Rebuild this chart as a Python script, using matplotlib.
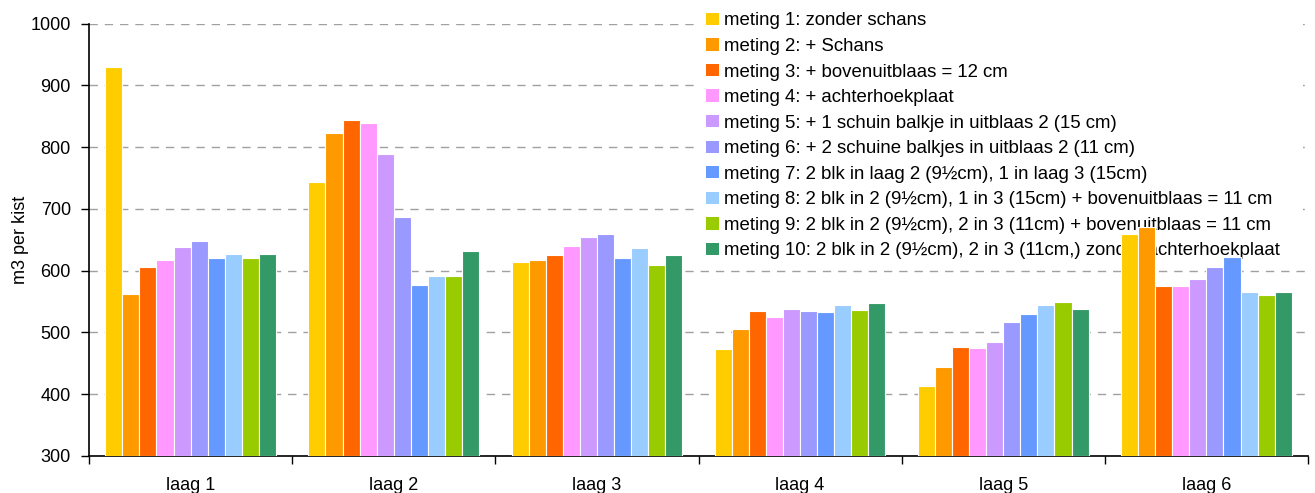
import matplotlib
matplotlib.use("Agg")
import numpy as np
import matplotlib.pyplot as plt
import matplotlib.patches as mpatches

plt.rcParams["font.family"] = ["Liberation Sans", "DejaVu Sans"]

# ---------------------------------------------------------------------------
# Data
# ---------------------------------------------------------------------------
layers = ["laag 1", "laag 2", "laag 3", "laag 4", "laag 5", "laag 6"]

series_labels = [
    "meting 1: zonder schans",
    "meting 2: + Schans",
    "meting 3: + bovenuitblaas = 12 cm",
    "meting 4: + achterhoekplaat",
    "meting 5: + 1 schuin balkje in uitblaas 2 (15 cm)",
    "meting 6: + 2 schuine balkjes in uitblaas 2 (11 cm)",
    "meting 7: 2 blk in laag 2 (9½cm), 1 in laag 3 (15cm)",
    "meting 8: 2 blk in 2 (9½cm), 1 in 3 (15cm) + bovenuitblaas = 11 cm",
    "meting 9: 2 blk in 2 (9½cm), 2 in 3 (11cm) + bovenuitblaas = 11 cm",
    "meting 10: 2 blk in 2 (9½cm), 2 in 3 (11cm,) zonder achterhoekplaat",
]

meting1 = [930, 744, 614, 473, 413, 660]
meting2 = [563, 823, 617, 505, 444, 670]
meting3 = [606, 844, 625, 535, 476, 575]
meting4 = [617, 839, 640, 525, 475, 575]
meting5 = [638, 789, 655, 538, 484, 586]
meting6 = [648, 687, 660, 535, 517, 606]
meting7 = [620, 577, 620, 533, 530, 622]
meting8 = [627, 591, 637, 544, 544, 565]
meting9 = [621, 591, 609, 536, 549, 561]
meting10 = [627, 632, 625, 547, 538, 565]

values = [meting1, meting2, meting3, meting4, meting5, meting6,
          meting7, meting8, meting9, meting10]

colors = ["#FFCC00", "#FF9900", "#FF6600", "#FF99FF", "#CC99FF",
          "#9999FF", "#6699FF", "#99CCFF", "#99CC00", "#339966"]

# ---------------------------------------------------------------------------
# Plot
# ---------------------------------------------------------------------------
W, H = 1315, 493
fig = plt.figure(figsize=(W / 100, H / 100), dpi=100)
ax = fig.add_axes([89 / W, 37 / H, 1219 / W, 432.5 / H])

x = np.arange(len(layers))
bw = 0.084
n = len(values)
for i, (vals, col, lab) in enumerate(zip(values, colors, series_labels)):
    offs = (i - (n - 1) / 2) * bw
    ax.bar(x + offs, np.array(vals) - 300, bottom=300, width=bw,
           color=col, edgecolor="white", linewidth=0.8, label=lab, zorder=3)

ax.set_xlim(-0.5, len(layers) - 0.5)
ax.set_ylim(300, 1000)
ax.set_yticks(np.arange(300, 1001, 100))
ax.yaxis.grid(True, linestyle=(0, (6, 5)), color="#A0A0A0", linewidth=1.0, zorder=0)
ax.set_axisbelow(True)

ax.set_xticks(np.arange(-0.5, len(layers)), minor=False)
ax.set_xticklabels([])
ax.set_xticks(x, minor=True)
ax.set_xticklabels(layers, minor=True, fontsize=13)
ax.tick_params(axis="x", which="minor", length=0, pad=15)
ax.tick_params(axis="x", which="major", length=6, direction="out", width=1)
ax.tick_params(axis="y", length=6, width=1, labelsize=13, pad=7)

for s in ("top", "right"):
    ax.spines[s].set_visible(False)
for s in ("left", "bottom"):
    ax.spines[s].set_linewidth(1.2)

ax.set_ylabel("m3 per kist", fontsize=13, labelpad=1)

# white legend box that hides the gridlines but sits behind the bars
box = mpatches.Rectangle((696 / W, 1 - 262 / H), 607 / W, 258 / H,
                         transform=fig.transFigure, facecolor="white",
                         edgecolor="none", zorder=2.5, clip_on=False)
ax.add_patch(box)

handles = [mpatches.Patch(facecolor=c, edgecolor="none", label=l)
           for c, l in zip(colors, series_labels)]
leg = ax.legend(handles=handles, loc="upper left",
                bbox_to_anchor=(699 / W, 1 - 5 / H),
                bbox_transform=fig.transFigure,
                frameon=False, handlelength=0.65, handleheight=0.65,
                handletextpad=0.3, labelspacing=0.46, borderaxespad=0,
                prop={"size": 13.4})
leg.set_zorder(2.6)

fig.savefig("out.png", dpi=100)
